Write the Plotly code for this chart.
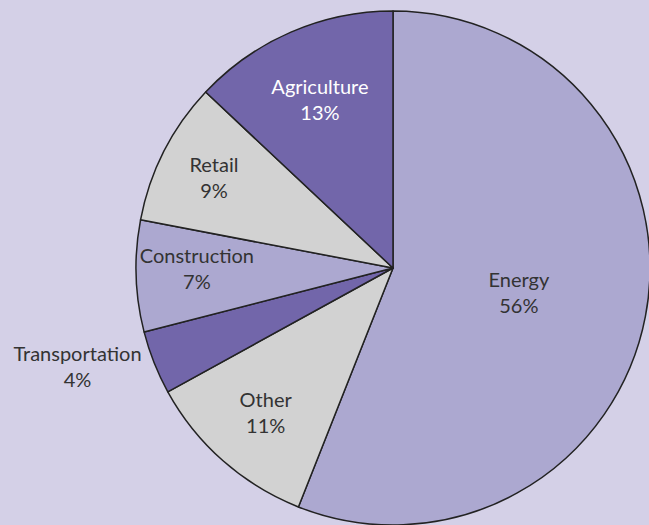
import plotly.graph_objects as go

labels = ["Energy", "Other", "Transportation", "Construction", "Retail", "Agriculture"]
values = [56, 11, 4, 7, 9, 13]
colors = ["#aca8d0", "#d2d2d2", "#7266aa", "#aca8d0", "#d2d2d2", "#7266aa"]
text_colors = ["#333333", "#333333", "#333333", "#333333", "#333333", "#ffffff"]
positions = ["inside", "inside", "outside", "inside", "inside", "inside"]

# figure slightly larger than the viewport so the pie can touch the edges
W, H = 654, 530
x0, x1 = 136, 650
y_top, y_bot = 11, 525
fig = go.Figure(go.Pie(
    labels=labels,
    values=values,
    sort=False,
    direction="clockwise",
    rotation=0,
    marker=dict(colors=colors, line=dict(color="#222222", width=1.5)),
    texttemplate="%{label}<br>%{value}%",
    textposition=positions,
    insidetextorientation="horizontal",
    textfont=dict(family="Lato, Open Sans, sans-serif", size=20, color=text_colors),
    domain=dict(x=[x0 / W, x1 / W], y=[(H - y_bot) / H, (H - y_top) / H]),
    showlegend=False,
    hoverinfo="skip",
))
fig.update_layout(
    width=W, height=H,
    margin=dict(l=0, r=0, t=0, b=0),
    paper_bgcolor="#d4d0e7",
    plot_bgcolor="#d4d0e7",
)
fig.write_html(
    "out.html",
    config={"displayModeBar": False},
    post_script="document.body.style.margin='0';document.body.style.overflow='hidden';document.body.style.background='#d4d0e7';",
)
